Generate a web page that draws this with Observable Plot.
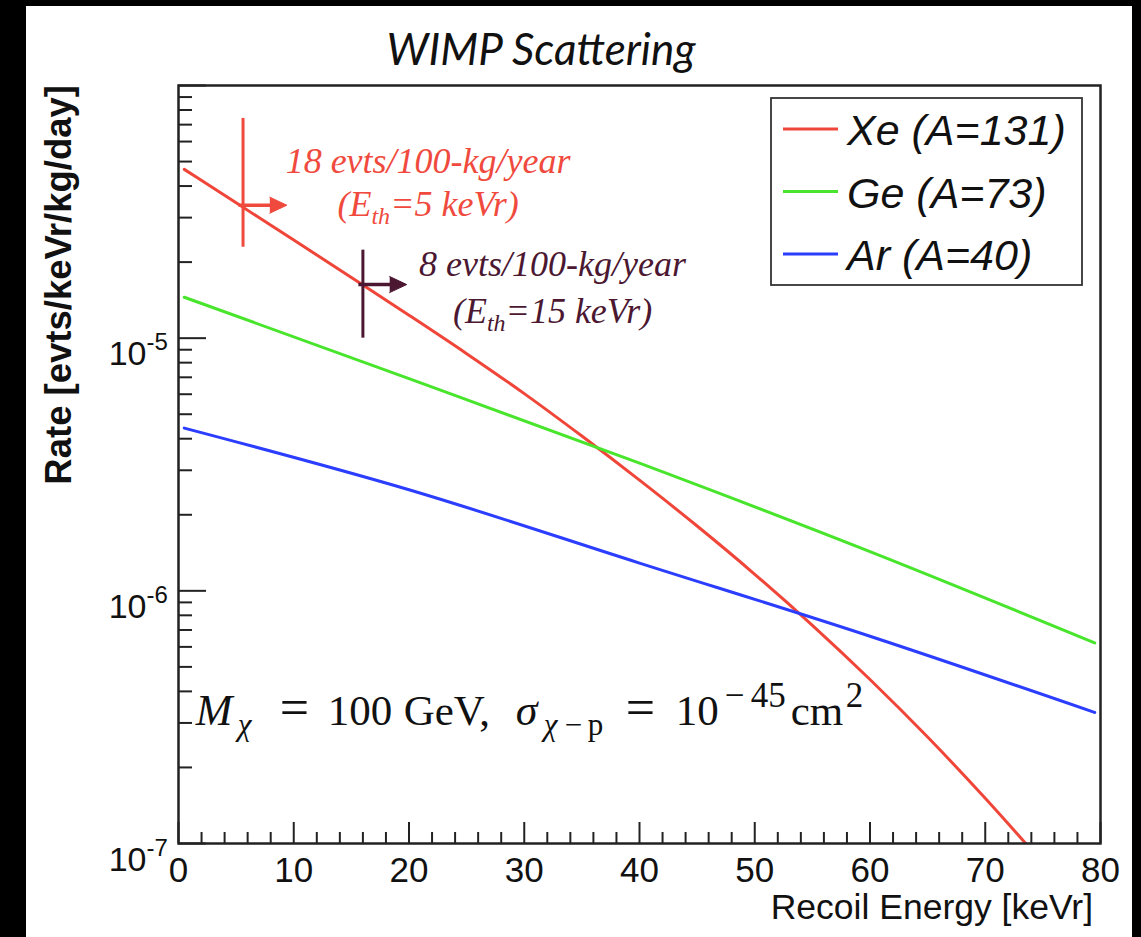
<!DOCTYPE html>
<html><head><meta charset="utf-8">
<script src="https://cdn.jsdelivr.net/npm/d3@7"></script>
<script src="https://cdn.jsdelivr.net/npm/@observablehq/plot@0.6"></script>
<style>
html,body{margin:0;padding:0;background:#000;width:1141px;height:937px;overflow:hidden;}
#chart{position:absolute;left:26px;top:6px;width:1106px;height:931px;background:#fff;}
svg text{white-space:pre;}
</style></head><body><div id="chart"></div>
<script>
// ---- data ----
const energyXe = [0.5, 5, 10, 15, 20, 25, 30, 35, 40, 45, 50, 55, 60, 65, 70, 74];
const rateXe   = [4.656e-5, 3.432e-5, 2.446e-5, 1.739e-5, 1.233e-5, 8.685e-6, 6.034e-6, 4.098e-6,
                  2.741e-6, 1.805e-6, 1.163e-6, 7.304e-7, 4.457e-7, 2.638e-7, 1.510e-7, 9.44e-8];
const energyGe = [0.5, 20, 40, 60, 79.5];
const rateGe   = [1.452e-5, 6.92e-6, 3.20e-6, 1.429e-6, 6.22e-7];
const energyAr = [0.5, 20, 40, 60, 79.5];
const rateAr   = [4.406e-6, 2.512e-6, 1.288e-6, 6.61e-7, 3.30e-7];
const seriesNames = ["Xe (A=131)", "Ge (A=73)", "Ar (A=40)"];
const seriesColors = ["#f0463a", "#48e52c", "#2b3dff"];

const xMajor = [0, 10, 20, 30, 40, 50, 60, 70, 80];
const xMinor = d3.range(2, 80, 2).filter(v => v % 10 !== 0);
const yMajor = [1e-7, 1e-6, 1e-5, 1e-4];
const yMajorLabels = [1e-7, 1e-6, 1e-5];
const yMinor = [-7, -6, -5].flatMap(k => d3.range(2, 10).map(m => m * Math.pow(10, k)));

// threshold markers
const thresholdEnergy = [5.6, 16];
const thresholdLow    = [2.29e-5, 1.0e-5];
const thresholdHigh   = [7.41e-5, 2.23e-5];
const thresholdRate   = [3.36e-5, 1.63e-5];
const thresholdArrow  = [9.4, 19.8];
const thresholdColors = ["#ef4a3d", "#4b1731"];
const thresholdLine1  = ["18 evts/100-kg/year", "8 evts/100-kg/year"];
const thresholdEth    = ["=5 keVr)", "=15 keVr)"];
const labelEnergy     = [21.7, 32.5];
const labelRate1      = [4.49e-5, 1.76e-5];
const labelRate2      = [3.03e-5, 1.146e-5];
// formula anchor (data coords)
const formulaEnergy = 1.53, formulaRate = 2.92e-7;

// ---- build tables ----
const mk = (es, rs) => es.map((e, i) => ({e, r: rs[i]}));
const curves = [mk(energyXe, rateXe), mk(energyGe, rateGe), mk(energyAr, rateAr)];
const thr = thresholdEnergy.map((e, i) => ({e, lo: thresholdLow[i], hi: thresholdHigh[i], r: thresholdRate[i], end: thresholdArrow[i]}));

const W = 1106, H = 931, mL = 152, mT = 79, mR = 32, mB = 94;
const innerW = W - mL - mR, innerH = H - mT - mB;
const sans = "'Liberation Sans', Arial, Helvetica, sans-serif";
const serif = "'Liberation Serif', 'Times New Roman', serif";

const marks = [];
curves.forEach((c, i) => marks.push(Plot.line(c, {x: "e", y: "r", stroke: seriesColors[i], strokeWidth: 3, curve: "monotone-x", clip: true})));
thr.forEach((t, i) => {
  marks.push(Plot.ruleX([t], {x: "e", y1: "lo", y2: "hi", stroke: thresholdColors[i], strokeWidth: 3}));
  marks.push(Plot.ruleY([t], {y: "r", x1: "e", x2: "end", dx: -4, stroke: thresholdColors[i], strokeWidth: 3.5}));
  marks.push(Plot.vector([t], {x: "end", y: "r", anchor: "end", rotate: 90, length: 17, r: 8, shape: "spike", fill: thresholdColors[i], stroke: thresholdColors[i], strokeWidth: 1}));
});
marks.push(
  Plot.tickY(yMinor, {y: d => d, insetRight: innerW - 14, stroke: "#222", strokeWidth: 2}),
  Plot.tickY(yMajor, {y: d => d, insetRight: innerW - 28, stroke: "#222", strokeWidth: 2}),
  Plot.tickX(xMinor, {x: d => d, insetTop: innerH - 11, stroke: "#222", strokeWidth: 2}),
  Plot.tickX(xMajor, {x: d => d, insetTop: innerH - 21, stroke: "#222", strokeWidth: 2}),
  Plot.frame({stroke: "#222", strokeWidth: 2.5}),
  Plot.text(xMajor, {x: d => d, frameAnchor: "bottom", lineAnchor: "top", dy: 14, text: d => String(d), fontSize: 35, fontFamily: sans, fill: "#111"}),
  Plot.text(yMajorLabels, {y: d => d, frameAnchor: "left", lineAnchor: "bottom", textAnchor: "end", dx: -32, dy: 27, text: () => "10", fontSize: 34, fontFamily: sans, fill: "#111"}),
  Plot.text(yMajorLabels, {y: d => d, frameAnchor: "left", lineAnchor: "bottom", textAnchor: "start", dx: -32, dy: 12, text: d => String(Math.round(Math.log10(d))), fontSize: 24, fontFamily: sans, fill: "#111"})
);

const plot = Plot.plot({
  width: W, height: H, marginLeft: mL, marginTop: mT, marginRight: mR, marginBottom: mB,
  style: {background: "white", overflow: "visible"},
  x: {domain: [0, 80], axis: null},
  y: {type: "log", domain: [1e-7, 1e-4], axis: null},
  marks
});
document.getElementById("chart").appendChild(plot);

const svg = d3.select(plot);
const xs = plot.scale("x"), ys = plot.scale("y");

// title
svg.append("text").attr("x", 515).attr("y", 59).attr("text-anchor", "middle")
  .attr("font-family", "Lato, 'Open Sans', sans-serif").attr("font-style", "italic")
  .attr("font-size", 44).attr("fill", "#111").text("WIMP Scattering");

// y axis label
svg.append("text").attr("transform", `translate(45,${mT}) rotate(-90)`).attr("text-anchor", "end")
  .attr("font-family", sans).attr("font-weight", "bold").attr("font-size", 36.5).attr("fill", "#111")
  .text("Rate [evts/keVr/kg/day]");

// x axis label
svg.append("text").attr("x", W - mR - 7).attr("y", H - 18).attr("text-anchor", "end")
  .attr("font-family", sans).attr("font-size", 35.5).attr("fill", "#111").text("Recoil Energy [keVr]");

// legend
const lg = svg.append("g");
lg.append("rect").attr("x", 745).attr("y", 92).attr("width", 311).attr("height", 187)
  .attr("fill", "white").attr("stroke", "#333").attr("stroke-width", 1.8);
seriesNames.forEach((n, i) => {
  const y = 123 + i * 62.5;
  lg.append("line").attr("x1", 757).attr("x2", 812).attr("y1", y).attr("y2", y)
    .attr("stroke", seriesColors[i]).attr("stroke-width", 3);
  lg.append("text").attr("x", 821).attr("y", y + 16).attr("text-anchor", "start").attr("font-family", sans).attr("font-style", "italic")
    .attr("font-size", 43).attr("fill", "#111").text(n);
});

// threshold annotations
thresholdLine1.forEach((s, i) => {
  const cx = xs.apply(labelEnergy[i]);
  svg.append("text").attr("x", cx).attr("y", ys.apply(labelRate1[i])).attr("text-anchor", "middle")
    .attr("font-family", serif).attr("font-style", "italic").attr("font-size", 36).attr("fill", thresholdColors[i]).text(s);
  const t = svg.append("text").attr("x", cx).attr("y", ys.apply(labelRate2[i])).attr("text-anchor", "middle")
    .attr("font-family", serif).attr("font-style", "italic").attr("font-size", 36).attr("fill", thresholdColors[i]);
  t.append("tspan").text("(E");
  t.append("tspan").attr("font-size", 24).attr("dy", 8).text("th");
  t.append("tspan").attr("dy", -8).text(thresholdEth[i]);
});

// formula: M_χ = 100 GeV, σ_{χ−p} = 10^{−45} cm^2
const fx = xs.apply(formulaEnergy), fy = ys.apply(formulaRate);
const f = svg.append("text").attr("text-anchor", "start").attr("font-family", serif).attr("fill", "#111");
const parts = [
  // [text, x offset, baseline offset, size, italic]
  ["M", 0, 0, 44, true], ["χ", 42, 10, 31, true], ["=", 84, 0, 52, false],
  ["100", 132, 0, 43, false], ["GeV,", 208, 0, 43, false],
  ["σ", 320, 0, 44, true], ["χ", 348, 10, 31, true], ["−", 369, 10, 31, false], ["p", 392, 10, 31, false],
  ["=", 430, 0, 52, false], ["10", 480, 0, 43, false], ["−", 529, -18, 35, false], ["45", 555, -18, 35, false],
  ["cm", 595, 0, 43, false], ["2", 650, -18, 35, false]
];
parts.forEach(([s, dx, dy, size, it]) => {
  const ts = f.append("tspan").attr("x", fx + dx).attr("y", fy + dy).attr("font-size", size).text(s);
  if (it) ts.attr("font-style", "italic");
});
</script></body></html>
